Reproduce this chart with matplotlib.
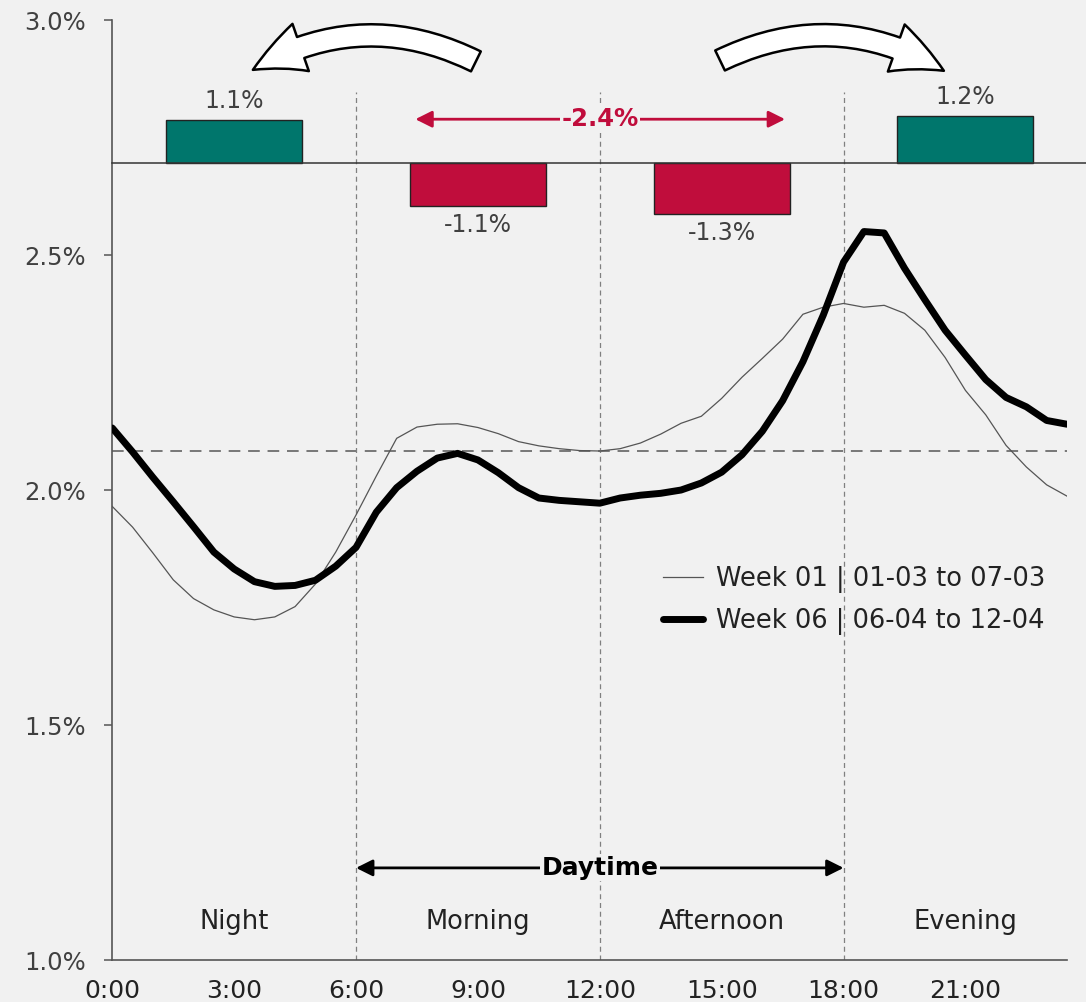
import numpy as np
import matplotlib
matplotlib.use("Agg")
import matplotlib.pyplot as plt
from matplotlib.patches import FancyArrowPatch

# ---------------- data ----------------
hours = np.arange(0, 24, 0.5)
week01 = [1.965, 1.921, 1.866, 1.809, 1.769, 1.745, 1.730, 1.724, 1.730, 1.752,
          1.800, 1.868, 1.947, 2.030, 2.110, 2.134, 2.140, 2.141, 2.133, 2.120,
          2.103, 2.094, 2.088, 2.084, 2.083, 2.088, 2.100, 2.119, 2.142, 2.157,
          2.195, 2.240, 2.280, 2.321, 2.374, 2.389, 2.397, 2.389, 2.393, 2.376,
          2.340, 2.282, 2.212, 2.160, 2.095, 2.049, 2.011, 1.987]
week06 = [2.132, 2.081, 2.027, 1.975, 1.922, 1.868, 1.832, 1.805, 1.795, 1.797,
          1.808, 1.838, 1.878, 1.953, 2.005, 2.040, 2.068, 2.078, 2.064, 2.037,
          2.005, 1.983, 1.978, 1.975, 1.972, 1.983, 1.989, 1.993, 2.000, 2.015,
          2.038, 2.075, 2.125, 2.190, 2.273, 2.372, 2.485, 2.550, 2.547, 2.472,
          2.405, 2.340, 2.287, 2.235, 2.197, 2.177, 2.148, 2.140]
legend_labels = ["Week 01 | 01-03 to 07-03", "Week 06 | 06-04 to 12-04"]
tick_hours = [0, 3, 6, 9, 12, 15, 18, 21]
tick_labels = ["0:00", "3:00", "6:00", "9:00", "12:00", "15:00", "18:00", "21:00"]
ytick_vals = [1.0, 1.5, 2.0, 2.5, 3.0]
ytick_labels = ["1.0%", "1.5%", "2.0%", "2.5%", "3.0%"]
period_names = ["Night", "Morning", "Afternoon", "Evening"]
period_centers = [3, 9, 15, 21]
period_bounds = [6, 12, 18]
period_change = [1.1, -1.1, -1.3, 1.2]
period_change_labels = ["1.1%", "-1.1%", "-1.3%", "1.2%"]
daytime_change_label = "-2.4%"
daytime_label = "Daytime"
avg_share = 100 / 48

# ---------------- style ----------------
bg = "#F1F1F1"
teal = "#00766C"
crimson = "#C00D3C"
txt = "#404040"
plt.rcParams["font.family"] = ["DejaVu Sans"]

fig = plt.figure(figsize=(10.86, 10.02), dpi=100, facecolor=bg)
ax = fig.add_axes([0.1034, 0.0419, 0.8791, 0.9381])
ax.set_facecolor(bg)
ax.set_xlim(0, 23.5)
ax.set_ylim(1.0, 3.0)

for s in ["top", "right"]:
    ax.spines[s].set_visible(False)
for s in ["left", "bottom"]:
    ax.spines[s].set_color("#555555")
    ax.spines[s].set_linewidth(1.2)

ax.set_yticks(ytick_vals)
ax.set_yticklabels(ytick_labels)
ax.set_xticks(tick_hours)
ax.set_xticklabels(tick_labels)
ax.tick_params(axis="y", length=6, width=1.1, color="#555555", pad=13,
               labelsize=17.5, labelcolor=txt)
ax.tick_params(axis="x", length=0, pad=14, labelsize=18, labelcolor="#222222")

# reference lines
ax.axhline(avg_share, color="#777777", lw=1.4, ls=(0, (6, 4)), zorder=1)
for b in period_bounds:
    ax.plot([b, b], [1.0, 2.847], color="#808080", lw=0.9, ls=(0, (4, 3)), zorder=1)

# lines
ax.plot(hours, week01, color="#555555", lw=0.9, label=legend_labels[0], zorder=3)
ax.plot(hours, week06, color="black", lw=5, solid_joinstyle="round",
        solid_capstyle="round", label=legend_labels[1], zorder=4)

leg = ax.legend(loc="center left", bbox_to_anchor=(0.6105, 0.4007),
                bbox_transform=fig.transFigure, frameon=False, fontsize=18.5,
                handlelength=1.55, handletextpad=0.5, labelspacing=0.6,
                borderpad=0, borderaxespad=0)
for t in leg.get_texts():
    t.set_color("#222222")

# period labels
for name, c in zip(period_names, period_centers):
    ax.text(c, 1.081, name, ha="center", va="center", fontsize=18.5, color="#222222")

# daytime arrow
ax.annotate("", xy=(period_bounds[2], 1.196), xytext=(period_bounds[0], 1.196),
            arrowprops=dict(arrowstyle="<|-|>", color="black", lw=2,
                            mutation_scale=25, shrinkA=0, shrinkB=0), zorder=5)
ax.text(period_bounds[1], 1.196, daytime_label, ha="center", va="center",
        fontsize=18, fontweight="bold", color="black", zorder=6,
        bbox=dict(facecolor=bg, edgecolor="none", pad=1.0))

# top bar panel on twin axis
ax2 = ax.twinx()
ax2.set_ylim(-20.18, 3.62)
ax2.axis("off")
ax2.bar(period_centers, period_change, width=3.35,
        color=[teal if v > 0 else crimson for v in period_change],
        edgecolor="#222222", linewidth=1, zorder=3)
ax2.plot([0, 24.0], [0, 0], color="#333333", lw=1.1, clip_on=False, zorder=4)
for c, v, lab in zip(period_centers, period_change, period_change_labels):
    ax2.annotate(lab, (c, v), xytext=(0, 5 if v > 0 else -5),
                 textcoords="offset points", ha="center",
                 va="bottom" if v > 0 else "top", fontsize=17, color=txt)

# -2.4% arrow
ax.annotate("", xy=(16.56, 2.789), xytext=(7.46, 2.789),
            arrowprops=dict(arrowstyle="<|-|>", color=crimson, lw=2,
                            mutation_scale=25, shrinkA=0, shrinkB=0), zorder=5)
ax.text(period_bounds[1], 2.789, daytime_change_label, ha="center", va="center",
        fontsize=17.5, fontweight="bold", color=crimson, zorder=6,
        bbox=dict(facecolor=bg, edgecolor="none", pad=1.0))

# big curved arrows
style = "simple,head_length=38,head_width=36,tail_width=16"
for a, b, r in [((8.95, 2.912), (3.46, 2.894), 0.27),
                ((14.96, 2.914), (20.47, 2.892), -0.27)]:
    p = FancyArrowPatch(a, b, connectionstyle=f"arc3,rad={r}", arrowstyle=style,
                        mutation_scale=1, facecolor="white", edgecolor="black",
                        lw=1.8, shrinkA=0, shrinkB=0, clip_on=False, zorder=7,
                        transform=ax.transData)
    ax.add_patch(p)

fig.savefig("out.png", dpi=100, facecolor=bg)
